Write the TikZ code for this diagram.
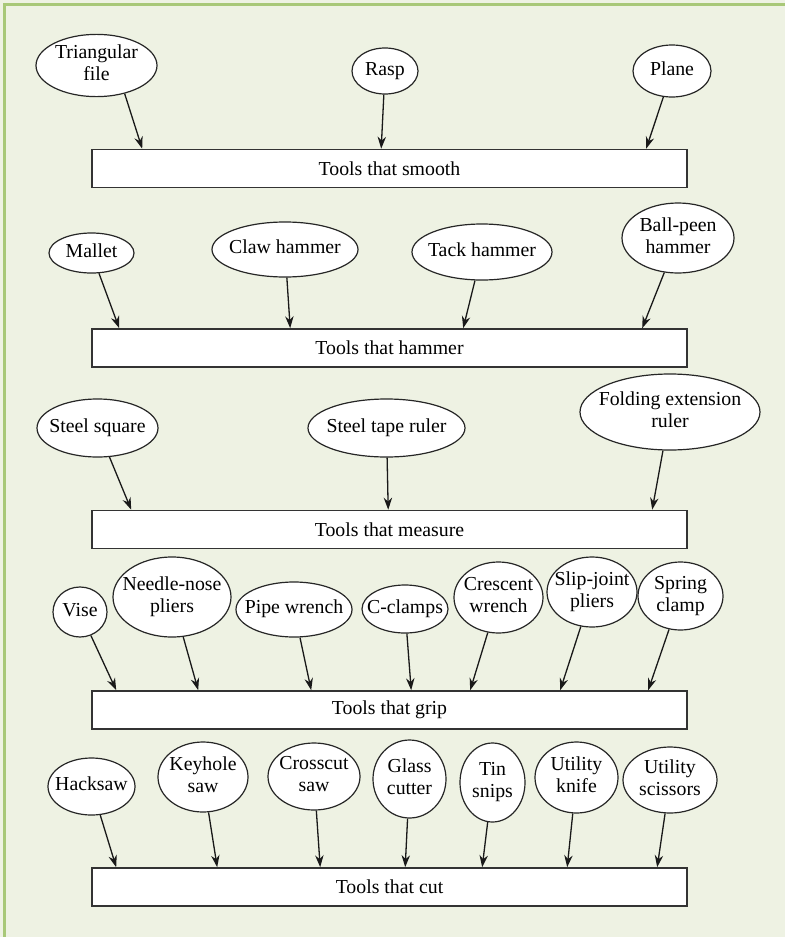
\documentclass[tikz,border=0pt]{standalone}
\usepackage{fontspec}
\setmainfont{Liberation Serif}
\usetikzlibrary{shapes.geometric,arrows.meta,calc}
\definecolor{bgcol}{RGB}{238,242,227}
\definecolor{edgecol}{RGB}{168,200,120}
\newcommand{\toolname}[1]{\makebox[0pt]{\begin{tabular}{@{}c@{}}#1\end{tabular}}}

\begin{document}
\begin{tikzpicture}[x=0.5pt,y=-0.5pt,
	tool/.style={ellipse, draw=black!85, fill=white, line width=0.6pt, inner sep=0pt, font=\fontsize{9.9}{11}\selectfont},
	group/.style={rectangle, draw=black!80, fill=white, line width=0.8pt, minimum width=297.5pt, minimum height=19pt, inner sep=0pt, font=\fontsize{9.9}{11}\selectfont},
	arr/.style={-{Stealth[length=6pt,width=4.2pt]}, line width=0.65pt, black!90}]
	\fill[bgcol] (0,0) rectangle (785,937);
	\useasboundingbox (0,0) rectangle (785,937);
	\draw[edgecol, line width=1.6pt] (4.5,937) -- (4.5,4.5) -- (785,4.5);

	% smooth
	\node[group] (smooth) at (389.5,168.5) {Tools that smooth};
	\node[tool, minimum width=60.5pt, minimum height=30.5pt] (tri) at (96.5,65.5) {\toolname{Triangular\\file}};
	\node[tool, minimum width=33pt, minimum height=23pt] (rasp) at (385,71) {\toolname{Rasp}};
	\node[tool, minimum width=39pt, minimum height=26pt] (plane) at (672,71) {\toolname{Plane}};
	\draw[arr] (tri.-45) -- ($(smooth.north west)+(51,0)$);
	\draw[arr] (rasp) -- ($(smooth.north west)+(290,0)$);
	\draw[arr] (plane) -- ($(smooth.north west)+(555,0)$);

	% hammer
	\node[group] (hammer) at (389.5,348) {Tools that hammer};
	\node[tool, minimum width=42.5pt, minimum height=20pt] (mallet) at (91.5,253) {\toolname{Mallet}};
	\node[tool, minimum width=73pt, minimum height=27.5pt] (claw) at (285,249.5) {\toolname{Claw hammer}};
	\node[tool, minimum width=70pt, minimum height=28pt] (tack) at (482,252) {\toolname{Tack hammer}};
	\node[tool, minimum width=56pt, minimum height=35pt] (ball) at (678,238) {\toolname{Ball-peen\\hammer}};
	\draw[arr] (mallet) -- ($(hammer.north west)+(28,0)$);
	\draw[arr] (claw) -- ($(hammer.north west)+(199,0)$);
	\draw[arr] (tack) -- ($(hammer.north west)+(372,0)$);
	\draw[arr] (ball) -- ($(hammer.north west)+(551,0)$);

	% measure
	\node[group] (measure) at (389.5,529.5) {Tools that measure};
	\node[tool, minimum width=60.5pt, minimum height=29pt] (square) at (97.5,428) {\toolname{Steel square}};
	\node[tool, minimum width=78.5pt, minimum height=29pt] (tape) at (386.5,428) {\toolname{Steel tape ruler}};
	\node[tool, minimum width=90pt, minimum height=38pt] (folding) at (670,412) {\toolname{Folding extension\\ruler}};
	\draw[arr] (square) -- ($(measure.north west)+(40,0)$);
	\draw[arr] (tape) -- ($(measure.north west)+(297,0)$);
	\draw[arr] (folding) -- ($(measure.north west)+(561,0)$);

	% grip
	\node[group] (grip) at (389.5,710) {Tools that grip};
	\node[tool, minimum width=27pt, minimum height=25pt] (vise) at (80,612) {\toolname{Vise}};
	\node[tool, minimum width=59pt, minimum height=40pt] (needle) at (172,597) {\toolname{Needle-nose\\pliers}};
	\node[tool, minimum width=58pt, minimum height=27.5pt] (pipe) at (294,609.5) {\toolname{Pipe wrench}};
	\node[tool, minimum width=43pt, minimum height=24pt] (cclamp) at (405,609) {\toolname{C-clamps}};
	\node[tool, minimum width=44.5pt, minimum height=35.5pt] (crescent) at (498.5,597.5) {\toolname{Crescent\\wrench}};
	\node[tool, minimum width=45pt, minimum height=35pt] (slip) at (592,592) {\toolname{Slip-joint\\pliers}};
	\node[tool, minimum width=42.5pt, minimum height=34pt] (spring) at (680.5,596) {\toolname{Spring\\clamp}};
	\draw[arr] (vise) -- ($(grip.north west)+(25,0)$);
	\draw[arr] (needle) -- ($(grip.north west)+(107,0)$);
	\draw[arr] (pipe) -- ($(grip.north west)+(220,0)$);
	\draw[arr] (cclamp) -- ($(grip.north west)+(320,0)$);
	\draw[arr] (crescent) -- ($(grip.north west)+(379,0)$);
	\draw[arr] (slip) -- ($(grip.north west)+(469,0)$);
	\draw[arr] (spring) -- ($(grip.north west)+(557,0)$);

	% cut
	\node[group] (cut) at (389.5,887) {Tools that cut};
	\node[tool, minimum width=43.5pt, minimum height=28.5pt] (hacksaw) at (91.5,786.5) {\toolname{Hacksaw}};
	\node[tool, minimum width=45pt, minimum height=35pt] (keyhole) at (203,777) {\toolname{Keyhole\\saw}};
	\node[tool, minimum width=46pt, minimum height=33.5pt] (crosscut) at (314,776.5) {\toolname{Crosscut\\saw}};
	\node[tool, minimum width=36.5pt, minimum height=39pt] (glass) at (409.5,779) {\toolname{Glass\\cutter}};
	\node[tool, minimum width=32.5pt, minimum height=39.5pt] (tin) at (492.5,782.5) {\toolname{Tin\\snips}};
	\node[tool, minimum width=41.5pt, minimum height=35.5pt] (knife) at (576.5,777.5) {\toolname{Utility\\knife}};
	\node[tool, minimum width=47pt, minimum height=33pt] (scissors) at (670,780) {\toolname{Utility\\scissors}};
	\draw[arr] (hacksaw) -- ($(cut.north west)+(25,0)$);
	\draw[arr] (keyhole) -- ($(cut.north west)+(126,0)$);
	\draw[arr] (crosscut) -- ($(cut.north west)+(229,0)$);
	\draw[arr] (glass) -- ($(cut.north west)+(314,0)$);
	\draw[arr] (tin) -- ($(cut.north west)+(391,0)$);
	\draw[arr] (knife) -- ($(cut.north west)+(476,0)$);
	\draw[arr] (scissors) -- ($(cut.north west)+(566,0)$);
\end{tikzpicture}
\end{document}
